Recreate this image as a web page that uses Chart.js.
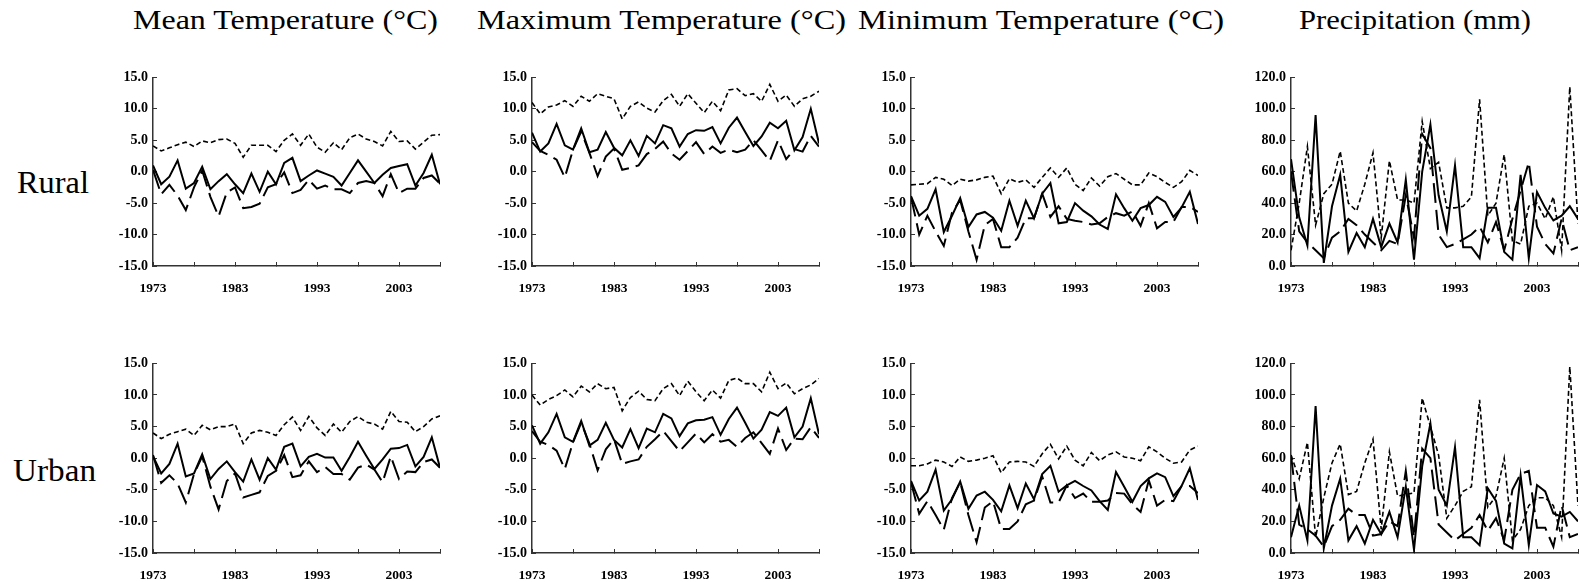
<!DOCTYPE html>
<html>
<head>
<meta charset="utf-8">
<script src="https://cdn.jsdelivr.net/npm/chart.js@4.4.0/dist/chart.umd.min.js"></script>
<style>
  html, body { margin: 0; padding: 0; background: #fff; width: 1579px; height: 582px; overflow: hidden; position: relative; }
  .panel { position: absolute; }
  .label { position: absolute; font-family: 'Liberation Serif', 'Times New Roman', serif; color: #000;
           white-space: nowrap; line-height: 1; transform-origin: 0 0; }
</style>
</head>
<body>
<script>
// ---- categories and axis labels ----
const years = [1973,1974,1975,1976,1977,1978,1979,1980,1981,1982,1983,1984,1985,1986,1987,1988,1989,1990,
               1991,1992,1993,1994,1995,1996,1997,1998,1999,2000,2001,2002,2003,2004,2005,2006,2007,2008];
const tickYears = [1973,1978,1983,1988,1993,1998,2003,2008];
const labelYears = [1973,1983,1993,2003];
const titles = ['Mean Temperature (°C)','Maximum Temperature (°C)','Minimum Temperature (°C)','Precipitation (mm)'];
const rowLabels = ['Rural','Urban'];
const tempTicks = [-15,15,5];
const precipTicks = [0,120,20];

// ---- Rural ----
const ruralMeanSolid = [1.0,-2.0,-0.8,1.8,-2.7,-1.8,0.8,-2.8,-1.5,-0.4,-2.0,-3.4,-0.3,-3.2,0.0,-2.0,1.4,2.2,-1.5,-0.6,0.2,-0.3,-0.8,-2.2,-0.2,1.8,0.0,-1.8,-0.5,0.6,0.9,1.2,-2.2,-0.2,2.7,-2.0];
const ruralMeanLong  = [0.3,-3.6,-2.1,-3.8,-6.1,-2.5,0.2,-4.0,-7.1,-3.3,-2.5,-5.8,-5.6,-5.1,-2.5,-2.0,-0.1,-3.4,-2.9,-1.3,-2.7,-2.2,-2.8,-2.8,-3.4,-1.8,-1.5,-1.8,-3.9,-0.4,-3.4,-2.7,-2.7,-1.0,-0.6,-1.9];
const ruralMeanShort = [4.1,3.3,3.8,4.3,4.7,4.0,4.9,4.6,5.1,5.2,4.5,2.3,4.2,4.2,4.2,3.2,5.0,6.0,4.2,6.0,3.9,3.1,4.6,3.5,5.4,6.0,5.2,4.8,4.1,6.4,4.8,4.9,3.6,4.7,5.8,5.9];

const ruralMaxSolid = [6.2,3.2,4.5,7.6,4.2,3.5,6.9,3.1,3.5,6.3,3.8,2.6,5.0,2.5,5.7,4.5,7.4,6.9,4.0,6.0,6.6,6.5,7.1,4.5,7.0,8.6,6.3,4.1,5.6,7.8,6.9,8.1,3.4,5.5,10.0,4.5];
const ruralMaxLong  = [4.7,3.3,2.7,1.9,-0.9,3.5,6.4,3.0,-0.7,2.4,3.7,0.3,0.6,1.0,2.8,3.6,4.8,2.9,1.9,3.3,4.7,2.8,4.0,3.0,3.5,3.1,3.5,5.0,3.4,1.7,5.0,2.0,3.6,3.2,5.7,4.0];
const ruralMaxShort = [11.0,9.2,10.3,10.6,11.3,10.4,12.0,11.2,12.4,12.0,11.6,8.4,10.4,11.1,10.1,9.5,11.3,12.3,10.4,12.4,10.9,9.4,11.2,9.7,13.0,13.2,12.1,12.4,11.2,13.9,11.2,12.2,10.4,11.6,12.0,12.8];

const ruralMinSolid = [-3.9,-7.0,-5.9,-2.8,-9.6,-7.0,-4.2,-8.8,-6.8,-6.4,-7.3,-9.4,-4.6,-8.6,-4.6,-7.4,-3.5,-1.8,-8.2,-8.0,-5.0,-6.2,-7.1,-8.4,-9.1,-3.6,-5.8,-7.8,-5.8,-5.3,-4.0,-4.8,-7.2,-5.7,-3.2,-8.3];
const ruralMinLong  = [-4.0,-10.0,-7.0,-9.5,-11.8,-6.5,-4.5,-9.5,-14.0,-8.5,-7.5,-12.0,-12.0,-10.5,-7.4,-7.4,-3.5,-7.2,-5.5,-7.5,-7.8,-8.0,-8.4,-8.2,-7.2,-6.6,-7.0,-6.3,-8.6,-5.0,-9.0,-8.0,-8.0,-5.6,-5.6,-6.4];
const ruralMinShort = [-2.1,-2.0,-1.9,-0.9,-1.2,-2.2,-1.2,-1.5,-1.3,-0.9,-0.7,-3.5,-1.1,-1.7,-1.3,-2.5,-0.9,0.6,-0.9,0.6,-2.0,-3.0,-1.0,-2.3,-0.8,-0.3,-1.2,-2.1,-2.1,-0.2,-0.8,-1.7,-2.5,-1.6,0.2,-0.6];

const ruralPrecSolid = [68,31,13,96,2,38,58,9,21,12,30,12,27,15,55,4,60,90,45,22,64,12,12,5,37,37,9,4,58,5,47,37,29,32,38,30];
const ruralPrecLong  = [60,22,15,10,5,18,22,30,26,20,15,10,16,14,45,18,84,75,20,12,14,17,20,25,15,28,10,30,48,66,25,14,8,30,10,12];
const ruralPrecShort = [10,40,76,26,46,52,73,40,35,52,72,18,67,42,42,40,92,62,66,37,37,38,44,106,32,40,71,16,14,38,40,30,44,10,114,27];

// ---- Urban ----
const urbanMeanSolid = [0.3,-2.4,-0.9,2.3,-2.9,-2.4,0.6,-3.3,-1.7,-0.5,-2.2,-3.7,-0.2,-3.4,0.0,-1.8,1.8,2.3,-1.3,0.2,0.7,0.1,0.1,-2.0,0.2,2.6,0.4,-1.7,-0.2,1.5,1.6,2.1,-1.3,0.2,3.3,-1.5];
const urbanMeanLong  = [0.5,-3.9,-2.7,-4.0,-7.0,-2.5,0.3,-4.5,-8.1,-3.6,-2.4,-6.2,-5.8,-5.4,-2.8,-2.0,0.5,-3.0,-2.7,-0.5,-2.2,-1.4,-2.5,-2.5,-3.4,-1.5,-1.0,-1.8,-3.8,0.3,-3.3,-2.1,-2.2,-0.6,-0.2,-1.5];
const urbanMeanShort = [4.0,3.1,3.8,4.2,4.6,3.6,5.2,4.5,5.0,5.0,5.4,2.3,4.0,4.4,4.1,3.6,5.3,6.5,4.4,6.6,4.8,3.6,5.4,4.1,5.8,6.6,5.7,5.4,4.6,7.4,5.8,5.7,4.2,5.0,6.2,6.7];

const urbanMaxSolid = [5.2,2.3,4.1,7.0,3.3,2.6,5.9,2.0,2.9,5.6,2.9,1.7,4.6,1.6,4.7,4.1,7.0,6.3,3.5,5.5,6.0,6.1,6.5,3.7,6.2,8.0,5.6,3.1,4.5,7.3,6.7,8.0,3.3,5.0,9.5,3.8];
const urbanMaxLong  = [4.3,2.6,2.1,1.2,-1.7,2.5,5.6,2.3,-1.9,1.4,3.0,-0.9,-0.5,-0.2,1.8,3.0,4.3,2.7,1.1,2.5,3.9,2.5,3.8,2.6,2.9,1.8,3.2,4.1,2.4,0.7,4.7,1.3,3.1,3.0,4.9,3.2];
const urbanMaxShort = [10.0,8.4,9.3,9.9,10.8,9.7,11.4,10.5,11.8,11.0,11.2,7.5,9.6,10.6,9.3,9.1,11.0,11.8,9.9,12.2,10.5,9.1,10.8,9.5,12.3,12.7,11.8,11.8,10.5,13.6,11.0,11.9,10.2,11.0,11.6,12.6];

const urbanMinSolid = [-3.6,-6.7,-5.3,-1.8,-8.3,-6.5,-3.7,-8.0,-5.9,-5.3,-6.6,-8.4,-4.3,-7.9,-4.0,-6.5,-2.5,-1.2,-5.3,-4.3,-3.6,-4.4,-5.1,-6.8,-8.2,-2.2,-4.5,-6.9,-4.4,-3.2,-2.4,-3.0,-6.0,-4.4,-1.6,-6.6];
const urbanMinLong  = [-3.8,-8.8,-6.8,-9.0,-11.3,-6.3,-3.8,-9.0,-13.3,-7.8,-6.8,-11.2,-11.2,-10.0,-7.3,-6.7,-2.9,-7.0,-7.0,-4.3,-6.3,-5.6,-6.9,-6.9,-6.7,-5.5,-5.6,-7.3,-8.5,-3.5,-7.5,-6.6,-6.8,-4.4,-4.4,-5.5];
const urbanMinShort = [-1.2,-1.2,-0.9,-0.3,-0.6,-1.3,0.2,-0.5,-0.3,0.0,0.4,-2.3,-0.6,-0.5,-0.6,-1.3,0.7,2.2,-0.1,1.9,-0.3,-1.2,0.9,-0.4,0.5,1.0,0.2,0.0,-0.4,1.8,1.0,0.0,-0.8,-0.6,1.3,1.9];

const urbanPrecSolid = [10,30,8,93,3,30,47,8,17,6,21,12,26,10,42,2,55,82,40,30,67,10,10,5,41,33,6,3,49,5,43,39,25,23,26,20];
const urbanPrecLong  = [62,18,15,11,4,17,21,28,24,24,11,12,20,17,52,10,66,60,18,13,8,12,16,24,14,22,8,40,50,52,16,16,4,30,10,12];
const urbanPrecShort = [62,47,70,10,35,57,69,37,39,57,72,15,64,36,37,38,98,80,62,22,30,39,42,97,29,36,60,8,15,30,35,35,30,10,118,30];

// ---- layout ----
const Y_AXIS_W = 55, X_AXIS_H = 36, PAD_TOP = 12, PAD_RIGHT = 8;
const colLeft = [98, 477, 856, 1236];
const rowTop = [60, 346];
const plotW = 297;
const plotH = [194, 195];

const panels = [
  { row: 0, col: 0, s: ruralMeanSolid, l: ruralMeanLong, d: ruralMeanShort, y: tempTicks },
  { row: 0, col: 1, s: ruralMaxSolid,  l: ruralMaxLong,  d: ruralMaxShort,  y: tempTicks },
  { row: 0, col: 2, s: ruralMinSolid,  l: ruralMinLong,  d: ruralMinShort,  y: tempTicks },
  { row: 0, col: 3, s: ruralPrecSolid, l: ruralPrecLong, d: ruralPrecShort, y: precipTicks },
  { row: 1, col: 0, s: urbanMeanSolid, l: urbanMeanLong, d: urbanMeanShort, y: tempTicks },
  { row: 1, col: 1, s: urbanMaxSolid,  l: urbanMaxLong,  d: urbanMaxShort,  y: tempTicks },
  { row: 1, col: 2, s: urbanMinSolid,  l: urbanMinLong,  d: urbanMinShort,  y: tempTicks },
  { row: 1, col: 3, s: urbanPrecSolid, l: urbanPrecLong, d: urbanPrecShort, y: precipTicks }
];

const serif = "'Liberation Serif', 'Times New Roman', serif";
const xTickFont = { family: serif, weight: 'bold', size: 13.5 };
const yTickFont = { family: serif, weight: 'bold', size: 14 };
const axisColor = '#333';

function points(vals) {
  return years.map((yr, i) => ({ x: yr, y: vals[i] }));
}

function drawPanel(p) {
  const w = Y_AXIS_W + plotW + PAD_RIGHT;
  const h = PAD_TOP + plotH[p.row] + X_AXIS_H;
  const c = document.createElement('canvas');
  c.className = 'panel';
  c.width = w; c.height = h;
  c.style.left = colLeft[p.col] + 'px';
  c.style.top = rowTop[p.row] + 'px';
  c.style.width = w + 'px'; c.style.height = h + 'px';
  document.body.appendChild(c);

  new Chart(c, {
    type: 'line',
    data: {
      datasets: [
        { data: points(p.s), borderColor: '#000', borderWidth: 2 },
        { data: points(p.l), borderColor: '#000', borderWidth: 2, borderDash: [20, 7] },
        { data: points(p.d), borderColor: '#000', borderWidth: 1.6, borderDash: [5, 3] }
      ]
    },
    options: {
      responsive: false,
      animation: false,
      devicePixelRatio: 1,
      layout: { padding: { top: PAD_TOP, right: PAD_RIGHT, left: 0, bottom: 0 } },
      elements: { point: { radius: 0 }, line: { tension: 0, borderCapStyle: 'butt' } },
      plugins: { legend: { display: false }, tooltip: { enabled: false } },
      scales: {
        x: {
          type: 'linear',
          min: years[0], max: years[years.length - 1],
          afterBuildTicks: s => { s.ticks = tickYears.map(v => ({ value: v })); },
          afterFit: s => { s.height = X_AXIS_H; },
          grid: { drawOnChartArea: false, drawTicks: true, tickLength: -4, color: axisColor, lineWidth: 1 },
          border: { display: true, color: axisColor, width: 1.5 },
          ticks: {
            padding: 18, maxRotation: 0, minRotation: 0, autoSkip: false, color: '#000', font: xTickFont,
            callback: v => labelYears.includes(v) ? String(v) : ''
          }
        },
        y: {
          min: p.y[0], max: p.y[1],
          afterFit: s => { s.width = Y_AXIS_W; },
          grid: { drawOnChartArea: false, drawTicks: true, tickLength: -4, color: axisColor, lineWidth: 1 },
          border: { display: true, color: axisColor, width: 1.5 },
          ticks: { stepSize: p.y[2], padding: 9, color: '#000', font: yTickFont, callback: v => Number(v).toFixed(1) }
        }
      }
    }
  });
}

panels.forEach(drawPanel);

// ---- headings and row names ----
function placeText(text, left, right, baseline, size) {
  const d = document.createElement('div');
  d.className = 'label';
  d.textContent = text;
  d.style.fontSize = size + 'px';
  d.style.left = left + 'px';
  d.style.top = (baseline - 0.8375 * size) + 'px';
  document.body.appendChild(d);
  const natural = d.getBoundingClientRect().width;
  d.style.transform = 'scaleX(' + ((right - left) / natural) + ')';
}

const titleSpans = [[133, 438], [477, 846], [858, 1224], [1299, 1531]];
titles.forEach((t, i) => placeText(t, titleSpans[i][0], titleSpans[i][1], 29.5, 27));
const rowSpans = [[17, 89, 193.3], [13, 96, 481]];
rowLabels.forEach((t, i) => placeText(t, rowSpans[i][0], rowSpans[i][1], rowSpans[i][2], 31));
</script>
</body>
</html>
